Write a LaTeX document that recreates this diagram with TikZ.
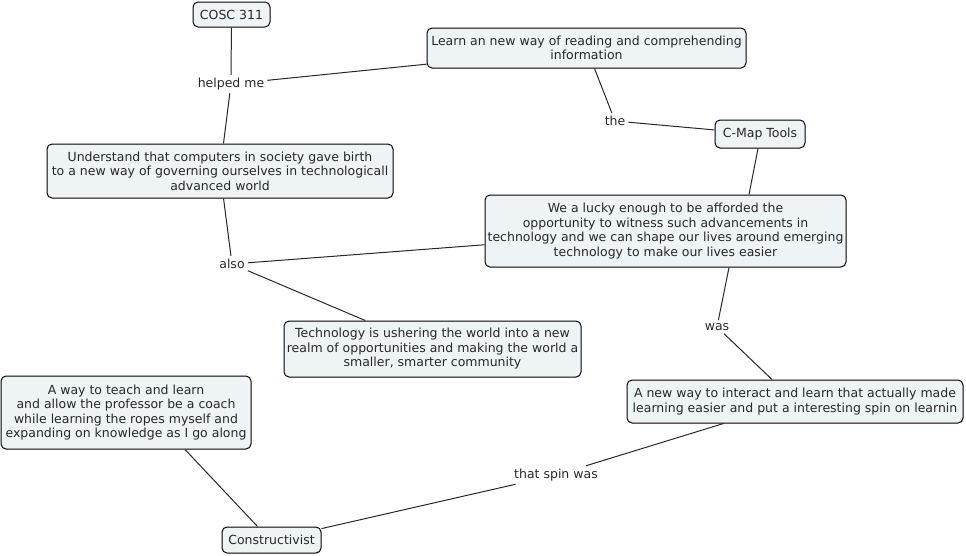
\documentclass[tikz,border=0pt]{standalone}
\usepackage{fontspec}
\setmainfont{DejaVu Sans}
\usetikzlibrary{positioning}
\definecolor{conceptfill}{RGB}{238,243,245}
\definecolor{inkgrey}{RGB}{40,40,40}
\tikzset{
    concept/.style={
        rectangle, draw=black, line width=1pt, rounded corners=5pt,
        fill=conceptfill, align=center, inner xsep=0pt, inner ysep=2pt,
        font=\fontsize{12.5}{14.5}\selectfont, text=inkgrey
    },
    linkphrase/.style={
        inner sep=3pt, font=\fontsize{12.5}{14.5}\selectfont, text=inkgrey
    },
    link/.style={draw=inkgrey, line width=1pt}
}

\begin{document}
\begin{tikzpicture}[x=1pt, y=-1pt]
\useasboundingbox (0,0) rectangle (966,555);

% concepts
\node[concept, minimum width=77pt, minimum height=25pt] (cosc) at (231.5,14.5) {COSC 311};
\node[concept, minimum width=319pt, minimum height=40pt] (learn) at (586.5,48) {Learn an new way of reading and comprehending\\information};
\node[concept, minimum width=90pt, minimum height=28pt] (cmap) at (760,134) {C-Map Tools};
\node[concept, minimum width=346pt, minimum height=54pt] (understand) at (220,171) {Understand that computers in society gave birth\\to a new way of governing ourselves in technologicall\\advanced world};
\node[concept, minimum width=361pt, minimum height=72pt] (lucky) at (665.5,231) {We a lucky enough to be afforded the\\opportunity to witness such advancements in\\technology and we can shape our lives around emerging\\technology to make our lives easier};
\node[concept, minimum width=297pt, minimum height=56pt] (tech) at (432.5,349) {Technology is ushering the world into a new\\realm of opportunities and making the world a\\smaller, smarter community};
\node[concept, minimum width=250pt, minimum height=73pt] (teach) at (126,412.5) {A way to teach and learn\\and allow the professor be a coach\\while learning the ropes myself and\\expanding on knowledge as I go along};
\node[concept, minimum width=336pt, minimum height=43pt] (newway) at (795,401.5) {A new way to interact and learn that actually made\\learning easier and put a interesting spin on learnin};
\node[concept, minimum width=99pt, minimum height=26pt] (constr) at (271.5,540) {Constructivist};

% linking phrases
\node[linkphrase] (helped) at (231,84) {helped me};
\node[linkphrase] (the) at (615,121) {the};
\node[linkphrase] (also) at (232,264) {also};
\node[linkphrase] (was) at (717,327) {was};
\node[linkphrase] (spin) at (556,475) {that spin was};

% links
\draw[link] (cosc) -- (helped);
\draw[link] (helped) -- (understand);
\draw[link] (helped) -- (learn);
\draw[link] (learn) -- (the);
\draw[link] (the) -- (cmap);
\draw[link] ([xshift=-2pt]cmap.south) -- ([xshift=83.5pt]lucky.north);
\draw[link] (understand) -- (also);
\draw[link] (also) -- (lucky);
\draw[link] (also) -- (tech);
\draw[link] ([xshift=63.5pt]lucky.south) -- (was);
\draw[link] (was) -- (newway);
\draw[link] (newway) -- (spin);
\draw[link] (spin) -- (constr);
\draw[link] ([xshift=59pt]teach.south) -- ([xshift=-14pt]constr.north);

\end{tikzpicture}
\end{document}
